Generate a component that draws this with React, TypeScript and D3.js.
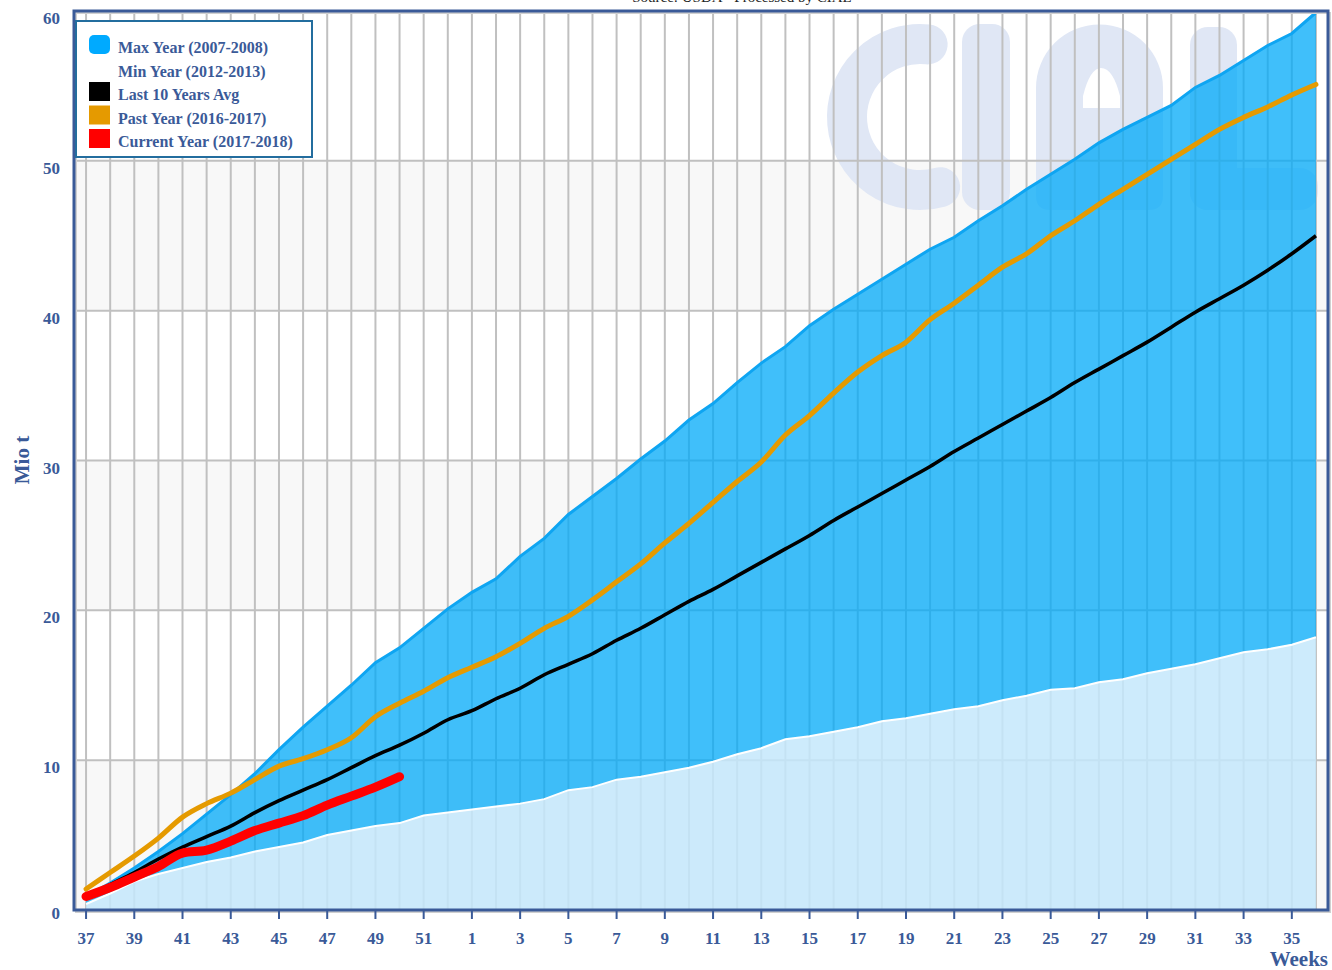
import React from "react";
import * as d3 from "d3";

// ---- data ----
const weeks: number[] = [
  37, 38, 39, 40, 41, 42, 43, 44, 45, 46, 47, 48, 49, 50, 51, 52,
  1, 2, 3, 4, 5, 6, 7, 8, 9, 10, 11, 12, 13, 14, 15, 16, 17, 18, 19, 20,
  21, 22, 23, 24, 25, 26, 27, 28, 29, 30, 31, 32, 33, 34, 35, 36,
];

const maxYear: number[] = [
  0.9, 1.8, 2.8, 3.9, 5.1, 6.4, 7.7, 9.1, 10.7, 12.2, 13.6, 15.0, 16.5, 17.5, 18.8, 20.1,
  21.2, 22.1, 23.6, 24.8, 26.4, 27.6, 28.8, 30.1, 31.3, 32.7, 33.8, 35.2, 36.5, 37.6, 39.0, 40.1,
  41.1, 42.1, 43.1, 44.1, 44.9, 46.0, 47.0, 48.1, 49.1, 50.1, 51.2, 52.1, 52.9, 53.7, 54.9, 55.7,
  56.7, 57.7, 58.5, 59.9,
];

const minYear: number[] = [
  0.4, 1.1, 1.9, 2.4, 2.8, 3.2, 3.5, 3.9, 4.2, 4.5, 5.0, 5.3, 5.6, 5.8, 6.3, 6.5,
  6.7, 6.9, 7.1, 7.4, 8.0, 8.2, 8.7, 8.9, 9.2, 9.5, 9.9, 10.4, 10.8, 11.4, 11.6, 11.9,
  12.2, 12.6, 12.8, 13.1, 13.4, 13.6, 14.0, 14.3, 14.7, 14.8, 15.2, 15.4, 15.8, 16.1, 16.4, 16.8,
  17.2, 17.4, 17.7, 18.2,
];

const avg10: number[] = [
  0.9, 1.7, 2.5, 3.4, 4.2, 4.9, 5.6, 6.5, 7.3, 8.0, 8.7, 9.5, 10.3, 11.0, 11.8, 12.7,
  13.3, 14.1, 14.8, 15.7, 16.4, 17.1, 18.0, 18.8, 19.7, 20.6, 21.4, 22.3, 23.2, 24.1, 25.0, 26.0,
  26.9, 27.8, 28.7, 29.6, 30.6, 31.5, 32.4, 33.3, 34.2, 35.2, 36.1, 37.0, 37.9, 38.9, 39.9, 40.8,
  41.7, 42.7, 43.8, 45.0,
];

const pastYear: number[] = [
  1.4, 2.5, 3.6, 4.8, 6.2, 7.1, 7.8, 8.7, 9.6, 10.1, 10.7, 11.5, 12.9, 13.8, 14.6, 15.5,
  16.2, 16.9, 17.8, 18.8, 19.6, 20.7, 21.9, 23.1, 24.5, 25.8, 27.2, 28.6, 29.9, 31.7, 33.0, 34.5,
  35.9, 37.0, 37.9, 39.4, 40.5, 41.7, 42.9, 43.8, 45.0, 46.0, 47.1, 48.1, 49.1, 50.1, 51.1, 52.1,
  52.9, 53.6, 54.4, 55.1,
];

const currentYear: number[] = [
  0.9, 1.5, 2.2, 2.9, 3.8, 4.0, 4.6, 5.3, 5.8, 6.3, 7.0, 7.6, 8.2, 8.9,
];

const yTicks: number[] = [0, 10, 20, 30, 40, 50, 60];
const xTickWeeks: number[] = weeks.filter((w) => w % 2 === 1 && w !== 36);

const legendItems = [
  { label: "Max Year (2007-2008)", color: "#00aaff", rounded: true },
  { label: "Min Year (2012-2013)", color: "none", rounded: false },
  { label: "Last 10 Years Avg", color: "#000000", rounded: false },
  { label: "Past Year (2016-2017)", color: "#e59a00", rounded: false },
  { label: "Current Year (2017-2018)", color: "#ff0000", rounded: false },
];

const title = "Source: USDA - Processed by CIAL";

// ---- styling ----
const W = 1332;
const H = 970;
const L = 74, R = 1328, T = 11, B = 910;
const axisColor = "#3a5a98";
const font = "'Liberation Serif', 'Times New Roman', serif";

export default function App() {
  const x = d3.scalePoint<string>()
    .domain(weeks.map(String))
    .range([L, R])
    .padding(0.5);
  const y = d3.scaleLinear().domain([0, 60]).range([B, T]);
  const xi = (i: number) => x(String(weeks[i])) as number;

  const band = d3.area<number>()
    .x((_, i) => xi(i))
    .y0((_, i) => y(minYear[i]))
    .y1((d) => y(d));
  const minArea = d3.area<number>()
    .x((_, i) => xi(i))
    .y0(y(0))
    .y1((d) => y(d));
  const straight = d3.line<number>().x((_, i) => xi(i)).y((d) => y(d));
  const smooth = d3.line<number>()
    .x((_, i) => xi(i))
    .y((d) => y(d))
    .curve(d3.curveMonotoneX);

  // alternating background bands
  const bands = d3.range(0, 60, 10).filter((v) => (v / 10) % 2 === 0);

  // watermark "CIAL" (decorative)
  const cx = 920, cy = 117, cr = 73;
  const a0 = (-84 * Math.PI) / 180;
  const a1 = (74 * Math.PI) / 180;
  const cPath = `M${cx + cr * Math.cos(a0)},${cy + cr * Math.sin(a0)} A${cr},${cr} 0 1 0 ${cx + cr * Math.cos(a1)},${cy + cr * Math.sin(a1)}`;
  const aPath =
    "M1036,196 L1036,88 A63.5,63.5 0 0 1 1163,88 L1163,196 Q1163,210 1149,210 L1050,210 Q1036,210 1036,196 Z " +
    "M1083,108 L1083,96 Q1090,68 1101,68 Q1113,68 1120,96 L1120,108 Z";
  const wm = "#e0e7f5";

  return (
    <svg
      width={W}
      height={H}
      style={{ position: "absolute", left: 0, top: 0, display: "block", background: "#fff" }}
      fontFamily={font}
    >
      {/* title (cut off at top, as in the original) */}
      <text x={742} y={2} textAnchor="middle" fontSize={15} fill="#222">
        {title}
      </text>

      {/* plot background */}
      <rect x={L} y={T} width={R - L} height={B - T} fill="#ffffff" />
      {bands.map((v) => (
        <rect key={v} x={L} y={y(v + 10)} width={R - L} height={y(v) - y(v + 10)} fill="#f8f8f8" />
      ))}

      {/* watermark */}
      <g fill={wm}>
        <path d={cPath} fill="none" stroke={wm} strokeWidth={40} strokeLinecap="round" />
        <rect x={962} y={24} width={48} height={186} rx={18} />
        <path d={aPath} fillRule="evenodd" />
        <rect x={1190} y={27} width={47} height={183} rx={18} />
        <rect x={1190} y={168} width={128} height={42} rx={18} />
      </g>

      {/* grid */}
      <g stroke="#c0c0c0" strokeWidth={2}>
        {weeks.map((w) => (
          <line key={w} x1={x(String(w))} x2={x(String(w))} y1={T} y2={B} />
        ))}
        {yTicks.slice(1, -1).map((v) => (
          <line key={v} x1={L} x2={R} y1={y(v)} y2={y(v)} />
        ))}
      </g>

      {/* max/min areas */}
      <path d={band(maxYear) || ""} fill="#00a9f8" fillOpacity={0.75} />
      <path d={minArea(minYear) || ""} fill="#c4e7fb" fillOpacity={0.85} />
      <path d={straight(maxYear) || ""} fill="none" stroke="#0ea5f2" strokeWidth={3} />
      <path d={straight(minYear) || ""} fill="none" stroke="#ffffff" strokeWidth={2} />

      {/* lines */}
      <path d={smooth(avg10) || ""} fill="none" stroke="#000" strokeWidth={3.5} strokeLinejoin="round" />
      <path d={smooth(pastYear) || ""} fill="none" stroke="#e59a00" strokeWidth={5} strokeLinejoin="round" strokeLinecap="round" />
      <path d={smooth(currentYear) || ""} fill="none" stroke="#ff0000" strokeWidth={9} strokeLinejoin="round" strokeLinecap="round" />

      {/* frame */}
      <rect x={L + 2} y={T + 2} width={R - L} height={B - T} fill="none" stroke="#d0d0d0" strokeWidth={2} />
      <rect x={L} y={T} width={R - L} height={B - T} fill="none" stroke={axisColor} strokeWidth={3} />

      {/* x ticks + labels */}
      <g>
        {xTickWeeks.map((w) => (
          <g key={w} transform={`translate(${x(String(w))},0)`}>
            <line y1={B + 1} y2={B + 9} stroke={axisColor} strokeWidth={2} />
            <text y={944} textAnchor="middle" fontSize={17} fontWeight="bold" fill={axisColor}>
              {w}
            </text>
          </g>
        ))}
      </g>
      <text x={R} y={966} textAnchor="end" fontSize={21} fontWeight="bold" fill={axisColor}>
        Weeks
      </text>

      {/* y labels */}
      {yTicks.map((v) => (
        <text
          key={v}
          x={60}
          y={v === 0 ? y(v) + 9 : y(v) + 13}
          textAnchor="end"
          fontSize={17}
          fontWeight="bold"
          fill={axisColor}
        >
          {v}
        </text>
      ))}
      <text
        transform="translate(29,460) rotate(-90)"
        textAnchor="middle"
        fontSize={21}
        fontWeight="bold"
        fill={axisColor}
      >
        Mio t
      </text>

      {/* legend */}
      <rect x={76} y={21} width={236} height={136} fill="#fff" stroke="#236d9e" strokeWidth={2} />
      {legendItems.map((it, i) => {
        const by = 53 + i * 23.5;
        return (
          <g key={it.label}>
            {it.color !== "none" && (
              <rect x={89} y={by - 18} width={21} height={19} rx={it.rounded ? 5 : 0} fill={it.color} />
            )}
            <text x={118} y={by} fontSize={16} fontWeight="bold" fill={axisColor}>
              {it.label}
            </text>
          </g>
        );
      })}
    </svg>
  );
}
